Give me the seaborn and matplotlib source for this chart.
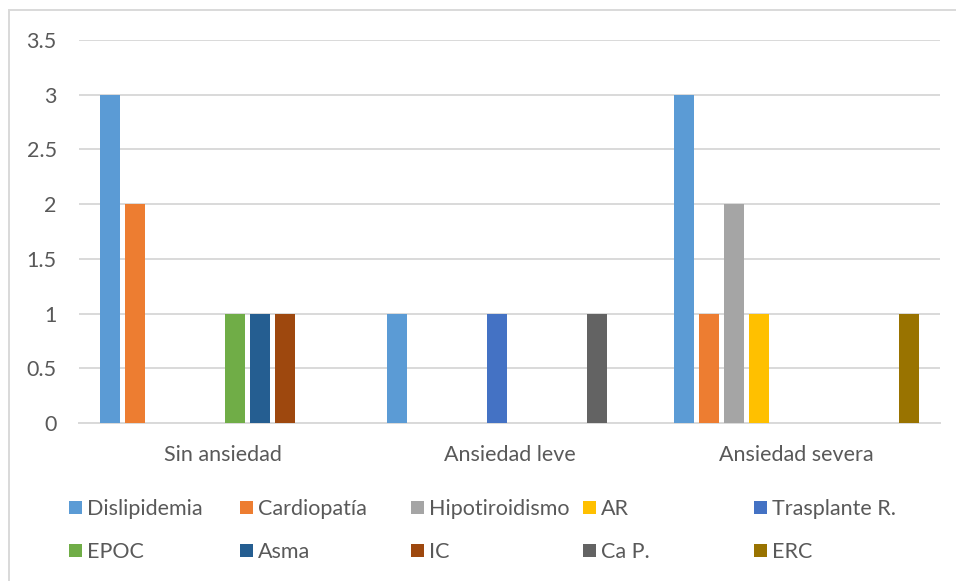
import matplotlib
matplotlib.use("Agg")
import matplotlib.pyplot as plt
from matplotlib.patches import Patch, Rectangle
import seaborn as sns
import pandas as pd

categories = ["Sin ansiedad", "Ansiedad leve", "Ansiedad severa"]
series = ["Dislipidemia", "Cardiopatía", "Hipotiroidismo", "AR", "Trasplante R.",
          "EPOC", "Asma", "IC", "Ca P.", "ERC"]
dislipidemia = [3, 1, 3]
cardiopatia = [2, 0, 1]
hipotiroidismo = [0, 0, 2]
ar = [0, 0, 1]
trasplante = [0, 1, 0]
epoc = [1, 0, 0]
asma = [1, 0, 0]
ic = [1, 0, 0]
ca_p = [0, 1, 0]
erc = [0, 0, 1]
values = [dislipidemia, cardiopatia, hipotiroidismo, ar, trasplante,
          epoc, asma, ic, ca_p, erc]
colors = ["#5B9BD5", "#ED7D31", "#A5A5A5", "#FFC000", "#4472C4",
          "#70AD47", "#255E91", "#9E480E", "#636363", "#997300"]
yticks = [0, 0.5, 1, 1.5, 2, 2.5, 3, 3.5]
ytick_labels = ["0", "0.5", "1", "1.5", "2", "2.5", "3", "3.5"]

rows = []
for name, vals in zip(series, values):
    for cat, v in zip(categories, vals):
        rows.append({"categoria": cat, "serie": name, "valor": v})
df = pd.DataFrame(rows)

sns.set_theme(style="white")
plt.rcParams["font.family"] = ["Lato", "DejaVu Sans"]
text_color = "#595959"
grid_color = "#D9D9D9"
fs = 15.5

W, H = 956, 581
fig = plt.figure(figsize=(W / 100, H / 100), dpi=100)
ax = fig.add_axes([79 / W, 1 - 423 / H, (940 - 79) / W, (423 - 40) / H])

sns.barplot(data=df, x="categoria", y="valor", hue="serie", order=categories,
            hue_order=series, palette=colors, saturation=1, width=0.871,
            gap=0.2, linewidth=0, errorbar=None, legend=False, ax=ax, zorder=3)

ax.set_xlim(-0.5, 2.5)
ax.set_ylim(0, 3.5)
ax.set_yticks(yticks)
ax.set_yticklabels(ytick_labels)
ax.yaxis.grid(True, color=grid_color, linewidth=1.4, zorder=0)
ax.set_axisbelow(True)
for side in ["left", "right", "top"]:
    ax.spines[side].set_visible(False)
ax.spines["bottom"].set_color(grid_color)
ax.spines["bottom"].set_linewidth(1.4)
ax.set_xlabel("")
ax.set_ylabel("")
ax.tick_params(axis="y", length=0, pad=16, labelsize=fs, labelcolor=text_color)
ax.tick_params(axis="x", length=0, pad=16, labelsize=fs, labelcolor=text_color)

# Legend: five equally spaced columns, two rows
col_x = [69, 240, 411, 583, 754]
for j, x in enumerate(col_x):
    handles = [Patch(facecolor=colors[j], edgecolor="none"),
               Patch(facecolor=colors[j + 5], edgecolor="none")]
    labels = [series[j], series[j + 5]]
    fig.legend(handles, labels, loc="upper left",
               bbox_to_anchor=(x / W, 1 - 499 / H), frameon=False,
               fontsize=fs, labelcolor=text_color, handlelength=0.6,
               handleheight=0.6, handletextpad=0.25, labelspacing=1.08,
               borderpad=0, borderaxespad=0)

# Chart area border (top and left edges fall inside the image)
fig.patches.append(Rectangle((9 / W, -0.1), 1.2, 1.1 - 10 / H,
                             transform=fig.transFigure, fill=False,
                             edgecolor=grid_color, linewidth=1.4))

fig.savefig("out.png", dpi=100)
